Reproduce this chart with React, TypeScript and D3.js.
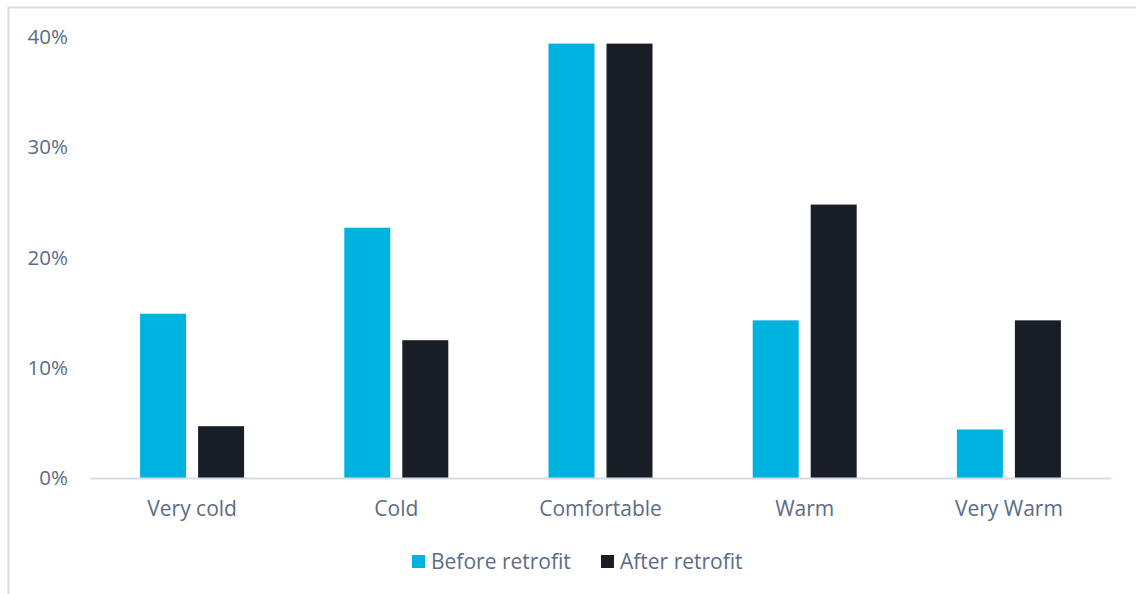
import React from "react";
import * as d3 from "d3";

const categories = ["Very cold", "Cold", "Comfortable", "Warm", "Very Warm"];
const seriesNames = ["Before retrofit", "After retrofit"];
const beforeRetrofit = [14.9, 22.7, 39.4, 14.3, 4.4];
const afterRetrofit = [4.7, 12.5, 39.4, 24.8, 14.3];
const yTicks = [0, 10, 20, 30, 40];

const colors = ["#00B2E0", "#191E26"];
const textColor = "#5B6C86";
const font = "'Open Sans', 'Noto Sans', sans-serif";

export default function App() {
  const width = 1136;
  const height = 594;
  const left = 90;
  const right = 1111;
  const top = 37;
  const bottom = 478;
  const groupWidth = 104;

  const x = d3.scaleBand<string>().domain(categories).range([left, right]).paddingInner(0).paddingOuter(0);
  const inner = d3.scaleBand<string>().domain(seriesNames).range([0, groupWidth]).paddingInner(12 / 58);
  const y = d3.scaleLinear().domain([0, 40]).range([bottom, top]);
  const series = [beforeRetrofit, afterRetrofit];

  return (
    <svg width={width} height={height} style={{ position: "absolute", left: 0, top: 0, background: "#fff" }}>
      <rect x={8.5} y={7.5} width={width + 10} height={height + 10} fill="none" stroke="#D6DCE4" strokeWidth={2} />
      {yTicks.map((t) => (
        <text key={t} x={68} y={y(t)} dy="0.35em" textAnchor="end" fontFamily={font} fontSize={20.5} fill={textColor}>
          {t}%
        </text>
      ))}
      {categories.map((c, i) => {
        const x0 = x(c)! + (x.bandwidth() - groupWidth) / 2;
        return (
          <g key={c}>
            {seriesNames.map((s, j) => (
              <rect
                key={s}
                x={x0 + inner(s)!}
                y={y(series[j][i])}
                width={inner.bandwidth()}
                height={y(0) - y(series[j][i])}
                fill={colors[j]}
              />
            ))}
            <text x={x(c)! + x.bandwidth() / 2} y={516} textAnchor="middle" fontFamily={font} fontSize={21} fill={textColor}>
              {c}
            </text>
          </g>
        );
      })}
      <line x1={left} x2={right} y1={bottom + 0.5} y2={bottom + 0.5} stroke="#D6DCE4" strokeWidth={2} />
      <g>
        <rect x={412} y={555} width={13} height={13} fill={colors[0]} />
        <text x={431} y={562} dy="0.35em" fontFamily={font} fontSize={21} fill={textColor}>{seriesNames[0]}</text>
        <rect x={601} y={555} width={13} height={13} fill={colors[1]} />
        <text x={620} y={562} dy="0.35em" fontFamily={font} fontSize={21} fill={textColor}>{seriesNames[1]}</text>
      </g>
    </svg>
  );
}
